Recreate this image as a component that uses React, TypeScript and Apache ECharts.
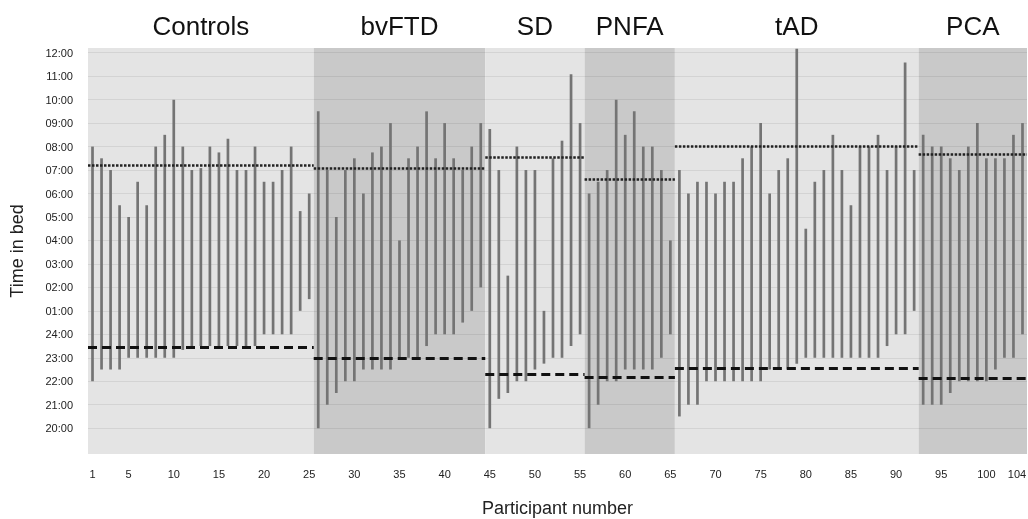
import React, { useEffect, useRef } from "react";
import * as echarts from "echarts";

// ---- Data ----
const groupNames = ["Controls", "bvFTD", "SD", "PNFA", "tAD", "PCA"];

const controlsBed = ["22:00", "22:30", "22:30", "22:30", "23:00", "23:00", "23:00", "23:00", "23:00", "23:00", "23:20", "23:30", "23:30", "23:30", "23:30", "23:30", "23:30", "23:30", "23:30", "24:00", "24:00", "24:00", "24:00", "01:00", "01:30"];
const controlsWake = ["08:00", "07:30", "07:00", "05:30", "05:00", "06:30", "05:30", "08:00", "08:30", "10:00", "08:00", "07:00", "07:05", "08:00", "07:45", "08:20", "07:00", "07:00", "08:00", "06:30", "06:30", "07:00", "08:00", "05:15", "06:00"];

const bvftdBed = ["20:00", "21:00", "21:30", "22:00", "22:00", "22:30", "22:30", "22:30", "22:30", "23:00", "23:00", "23:00", "23:30", "24:00", "24:00", "24:00", "00:30", "01:00", "02:00"];
const bvftdWake = ["09:30", "07:00", "05:00", "07:00", "07:30", "06:00", "07:45", "08:00", "09:00", "04:00", "07:30", "08:00", "09:30", "07:30", "09:00", "07:30", "07:00", "08:00", "09:00"];

const sdBed = ["20:00", "21:15", "21:30", "22:00", "22:00", "22:30", "22:45", "23:00", "23:00", "23:30", "24:00"];
const sdWake = ["08:45", "07:00", "02:30", "08:00", "07:00", "07:00", "01:00", "07:30", "08:15", "11:05", "09:00"];

const pnfaBed = ["20:00", "21:00", "22:00", "22:00", "22:30", "22:30", "22:30", "22:30", "23:00", "24:00"];
const pnfaWake = ["06:00", "06:30", "07:00", "10:00", "08:30", "09:30", "08:00", "08:00", "07:00", "04:00"];

const tadBed = ["20:30", "21:00", "21:00", "22:00", "22:00", "22:00", "22:00", "22:00", "22:00", "22:00", "22:30", "22:30", "22:30", "22:45", "23:00", "23:00", "23:00", "23:00", "23:00", "23:00", "23:00", "23:00", "23:00", "23:30", "24:00", "24:00", "01:00"];
const tadWake = ["07:00", "06:00", "06:30", "06:30", "06:00", "06:30", "06:30", "07:30", "08:00", "09:00", "06:00", "07:00", "07:30", "12:10", "04:30", "06:30", "07:00", "08:30", "07:00", "05:30", "08:00", "08:00", "08:30", "07:00", "08:00", "11:35", "07:00"];

const pcaBed = ["21:00", "21:00", "21:00", "21:30", "22:00", "22:00", "22:00", "22:00", "22:30", "23:00", "23:00", "24:00"];
const pcaWake = ["08:30", "08:00", "08:00", "07:30", "07:00", "08:00", "09:00", "07:30", "07:30", "07:30", "08:30", "09:00"];

const meanBed = ["23:26", "22:58", "22:18", "22:11", "22:32", "22:07"];
const meanWake = ["07:12", "07:04", "07:32", "06:37", "08:02", "07:40"];

const xTickValues = [1, 5, 10, 15, 20, 25, 30, 35, 40, 45, 50, 55, 60, 65, 70, 75, 80, 85, 90, 95, 100, 104];
const yTickLabels = ["20:00", "21:00", "22:00", "23:00", "24:00", "01:00", "02:00", "03:00", "04:00", "05:00", "06:00", "07:00", "08:00", "09:00", "10:00", "11:00", "12:00"];

// ---- helpers ----
const FONT = "'Liberation Sans', Arial, Helvetica, sans-serif";
const toHours = (s: string) => {
  const [h, m] = s.split(":").map(Number);
  return (h + m / 60 - 20 + 24) % 24;
};

const bedGroups = [controlsBed, bvftdBed, sdBed, pnfaBed, tadBed, pcaBed];
const wakeGroups = [controlsWake, bvftdWake, sdWake, pnfaWake, tadWake, pcaWake];

export default function App() {
  const ref = useRef<HTMLDivElement>(null);
  useEffect(() => {
    if (!ref.current) return;
    const chart = echarts.init(ref.current, undefined, { renderer: "svg" });

    const participants: number[][] = [];
    const ranges: { start: number; end: number }[] = [];
    let idx = 1;
    bedGroups.forEach((beds, g) => {
      const start = idx;
      beds.forEach((b, i) => {
        participants.push([idx, toHours(b), toHours(wakeGroups[g][i])]);
        idx++;
      });
      ranges.push({ start, end: idx - 1 });
    });
    const total = idx - 1;
    const lastTick = xTickValues[xTickValues.length - 1];

    const lightShade = "#e4e4e4";
    const darkShade = "#c9c9c9";

    const areaData = ranges.map((r, g) => [
      { xAxis: r.start - 0.5, name: groupNames[g], itemStyle: { color: g % 2 === 0 ? lightShade : darkShade } },
      { xAxis: r.end + 0.5 },
    ]);

    const meanLines: any[] = [];
    ranges.forEach((r, g) => {
      meanLines.push([
        { coord: [r.start - 0.5, toHours(meanBed[g])], lineStyle: { type: [9, 5], width: 3, color: "#111" } },
        { coord: [r.end + 0.5, toHours(meanBed[g])] },
      ]);
      meanLines.push([
        { coord: [r.start - 0.5, toHours(meanWake[g])], lineStyle: { type: [2.5, 1.5], width: 2.5, color: "#222" } },
        { coord: [r.end + 0.5, toHours(meanWake[g])] },
      ]);
    });

    const yTickValues = yTickLabels.map((_, i) => i);

    chart.setOption({
      animation: false,
      textStyle: { fontFamily: FONT },
      grid: { left: 88, right: 1, top: 48, bottom: 65, containLabel: false, outerBoundsMode: "none" },
      xAxis: {
        type: "value",
        min: 0.5,
        max: total + 0.5,
        axisLine: { show: false },
        axisTick: { show: false },
        splitLine: { show: false },
        axisLabel: {
          customValues: xTickValues,
          formatter: (v: number) => (v === lastTick ? `{last|${v}}` : `${v}`),
          rich: { last: { fontSize: 11, color: "#222", padding: [0, 11, 0, 0], fontFamily: FONT } },
          fontSize: 11,
          color: "#222",
          margin: 14,
          fontFamily: FONT,
        },
        name: "Participant number",
        nameLocation: "middle",
        nameGap: 45,
        nameTextStyle: { fontSize: 18, color: "#222", fontFamily: FONT },
      },
      yAxis: {
        type: "value",
        min: -1.1,
        max: 16.2,
        axisLine: { show: false },
        axisTick: { show: false },
        splitLine: { show: false },
        axisLabel: {
          customValues: yTickValues,
          formatter: (v: number) => yTickLabels[Math.round(v)] ?? "",
          fontSize: 11,
          color: "#222",
          margin: 15,
          fontFamily: FONT,
        },
        name: "Time in bed",
        nameLocation: "middle",
        nameRotate: 90,
        nameGap: 62,
        nameTextStyle: { fontSize: 18, color: "#222", fontFamily: FONT },
      },
      series: [
        {
          type: "line",
          data: [],
          silent: true,
          markArea: {
            silent: true,
            z: 0,
            label: { show: true, position: "top", distance: 9, fontSize: 26, color: "#111", fontFamily: FONT },
            data: areaData,
          },
          markLine: {
            silent: true,
            z: 1,
            symbol: ["none", "none"],
            label: { show: false },
            lineStyle: { type: "solid", width: 1, color: "rgba(0,0,0,0.07)" },
            data: yTickValues.map((v) => ({ yAxis: v })),
          },
        },
        {
          type: "custom",
          z: 2,
          data: participants,
          encode: { x: 0, y: [1, 2] },
          renderItem: (params: any, api: any) => {
            const x = api.value(0);
            const p1 = api.coord([x, api.value(1)]);
            const p2 = api.coord([x, api.value(2)]);
            return {
              type: "line",
              shape: { x1: p1[0], y1: p1[1], x2: p2[0], y2: p2[1] },
              style: { stroke: "#747474", lineWidth: 2.7 },
            };
          },
          markLine: {
            silent: true,
            symbol: ["none", "none"],
            label: { show: false },
            data: meanLines,
          },
        },
      ],
    });
    return () => chart.dispose();
  }, []);
  return <div ref={ref} style={{ position: "fixed", left: 0, top: 0, width: 1028, height: 519 }} />;
}
